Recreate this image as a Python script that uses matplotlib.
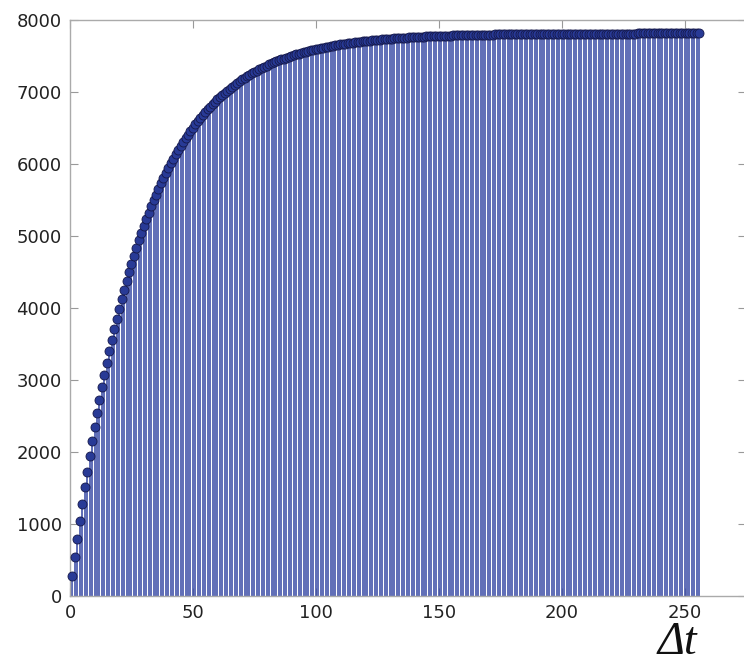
import matplotlib
matplotlib.use("Agg")
import matplotlib.pyplot as plt

# time lags (x) and accumulated values (y)
dt = list(range(1, 257))
values = [
    274, 539, 794, 1040, 1278, 1507, 1729, 1942, 2148, 2347,
    2539, 2724, 2903, 3075, 3241, 3402, 3557, 3706, 3850, 3989,
    4124, 4253, 4378, 4499, 4615, 4727, 4836, 4940, 5041, 5138,
    5232, 5323, 5410, 5495, 5576, 5655, 5730, 5804, 5874, 5942,
    6008, 6071, 6132, 6191, 6248, 6303, 6356, 6408, 6457, 6505,
    6551, 6595, 6638, 6679, 6719, 6757, 6795, 6830, 6865, 6898,
    6930, 6961, 6991, 7020, 7048, 7075, 7101, 7126, 7150, 7174,
    7196, 7218, 7239, 7259, 7278, 7297, 7315, 7333, 7350, 7366,
    7382, 7397, 7412, 7426, 7440, 7453, 7465, 7478, 7490, 7501,
    7512, 7523, 7533, 7543, 7552, 7562, 7570, 7579, 7587, 7595,
    7603, 7610, 7618, 7625, 7631, 7638, 7644, 7650, 7656, 7661,
    7667, 7672, 7677, 7682, 7686, 7691, 7695, 7700, 7704, 7707,
    7711, 7715, 7718, 7722, 7725, 7728, 7731, 7734, 7737, 7740,
    7742, 7745, 7747, 7750, 7752, 7754, 7756, 7758, 7760, 7762,
    7764, 7766, 7768, 7769, 7771, 7772, 7774, 7775, 7777, 7778,
    7779, 7781, 7782, 7783, 7784, 7785, 7786, 7787, 7788, 7789,
    7790, 7791, 7792, 7793, 7793, 7794, 7795, 7796, 7796, 7797,
    7798, 7798, 7799, 7799, 7800, 7800, 7801, 7801, 7802, 7802,
    7803, 7803, 7804, 7804, 7804, 7805, 7805, 7805, 7806, 7806,
    7806, 7807, 7807, 7807, 7808, 7808, 7808, 7808, 7809, 7809,
    7809, 7809, 7809, 7810, 7810, 7810, 7810, 7810, 7810, 7811,
    7811, 7811, 7811, 7811, 7811, 7812, 7812, 7812, 7812, 7812,
    7812, 7812, 7812, 7812, 7812, 7812, 7812, 7812, 7812, 7812,
    7813, 7813, 7813, 7813, 7813, 7813, 7813, 7813, 7813, 7813,
    7813, 7813, 7813, 7813, 7813, 7813, 7813, 7813, 7813, 7813,
    7813, 7813, 7813, 7813, 7813, 7813,
]
xticks = [0, 50, 100, 150, 200, 250]
yticks = [0, 1000, 2000, 3000, 4000, 5000, 6000, 7000, 8000]

fig = plt.figure(figsize=(7.44, 6.66), dpi=100)
ax = fig.add_axes([70 / 744, 70 / 666, 676 / 744, 576 / 666])

ax.vlines(dt, 0, values, colors="#3446a4", linewidth=1.3, alpha=0.85,
          zorder=2)
ax.plot(dt, values, linestyle="none", marker="o", markersize=6.5,
        markerfacecolor="#283a96", markeredgecolor="#15184a",
        markeredgewidth=0.6, zorder=3, clip_on=False)

ax.set_xlim(0, 275)
ax.set_ylim(0, 8000)
ax.set_xticks(xticks)
ax.set_yticks(yticks)
ax.tick_params(direction="in", length=6, width=0.8, color="#999999",
               top=True, right=True, labelsize=13, labelcolor="#222222",
               pad=6)
for s in ax.spines.values():
    s.set_color("#aaaaaa")
    s.set_linewidth(1.0)

fig.text(677 / 744, 12 / 666, "Δt", fontsize=33, style="italic",
         family="Liberation Serif", ha="center", va="baseline",
         color="#111111")

fig.savefig("out.png", dpi=100)
